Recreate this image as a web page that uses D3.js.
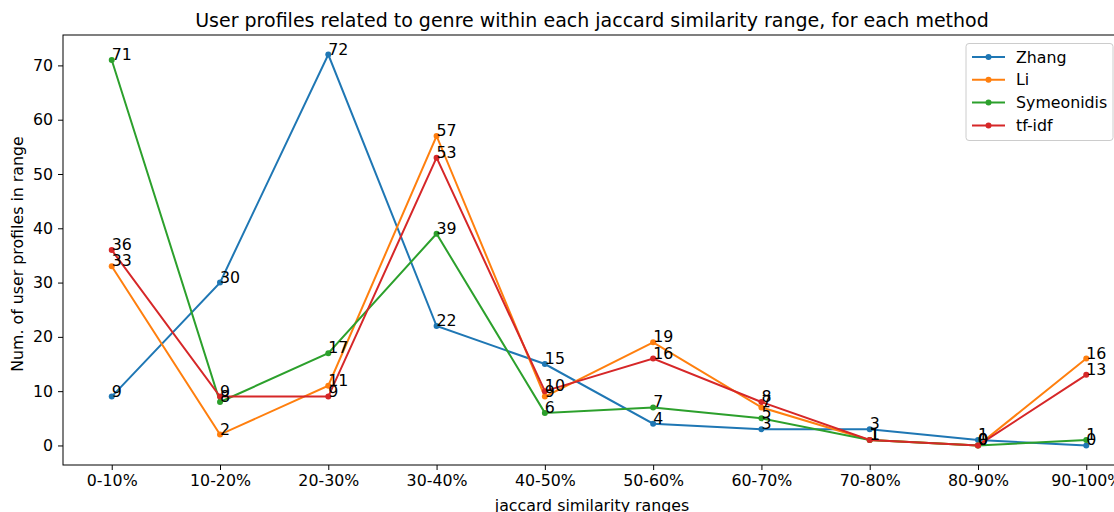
<!DOCTYPE html>
<html>
<head>
<meta charset="utf-8">
<script src="https://cdn.jsdelivr.net/npm/d3@7"></script>
<style>
  body { margin: 0; background: #fff; }
  svg text { font-family: "DejaVu Sans", sans-serif; fill: #000; }
</style>
</head>
<body>
<svg id="chart" width="1114" height="512"></svg>
<script>
// data
var categories = ['0-10%', '10-20%', '20-30%', '30-40%', '40-50%', '50-60%', '60-70%', '70-80%', '80-90%', '90-100%'];
var methods = ['Zhang', 'Li', 'Symeonidis', 'tf-idf'];
var zhang = [9, 30, 72, 22, 15, 4, 3, 3, 1, 0];
var li = [33, 2, 11, 57, 9, 19, 7, 1, 0, 16];
var symeonidis = [71, 8, 17, 39, 6, 7, 5, 1, 0, 1];
var tfidf = [36, 9, 9, 53, 10, 16, 8, 1, 0, 13];
var yTicks = [0, 10, 20, 30, 40, 50, 60, 70];
var colors = ['#1f77b4', '#ff7f0e', '#2ca02c', '#d62728'];

var series = [zhang, li, symeonidis, tfidf];
var fs = '15.8px';

var svg = d3.select('#chart');
// plot area (window.top is reserved, so use a margin object)
var m = { left: 63, right: 1135, top: 35, bottom: 465 };

var x = d3.scaleLinear().domain([-0.45, 9.45]).range([m.left, m.right]);
var y = d3.scaleLinear().domain([-3.6, 75.6]).range([m.bottom, m.top]);

// title
svg.append('text')
  .attr('x', 592).attr('y', 27)
  .attr('text-anchor', 'middle')
  .style('font-size', '19px')
  .text('User profiles related to genre within each jaccard similarity range, for each method');

// axes
var xAxis = d3.axisBottom(x).tickValues(d3.range(categories.length))
  .tickFormat(function (i) { return categories[i]; }).tickSizeOuter(0).tickSize(5).tickPadding(5);
var yAxis = d3.axisLeft(y).tickValues(yTicks).tickSizeOuter(0).tickSize(5).tickPadding(5);

var gx = svg.append('g').attr('transform', 'translate(0,' + m.bottom + ')').call(xAxis);
var gy = svg.append('g').attr('transform', 'translate(' + m.left + ',0)').call(yAxis);
[gx, gy].forEach(function (g) {
  g.select('.domain').remove();
  g.selectAll('text').style('font-size', fs).style('font-family', '"DejaVu Sans", sans-serif');
  g.selectAll('line').attr('stroke', '#000').attr('stroke-width', 1);
});

// frame
svg.append('rect')
  .attr('x', m.left).attr('y', m.top)
  .attr('width', m.right - m.left).attr('height', m.bottom - m.top)
  .attr('fill', 'none').attr('stroke', '#000').attr('stroke-width', 1);

svg.append('text')
  .attr('x', 592).attr('y', 511)
  .attr('text-anchor', 'middle')
  .style('font-size', fs)
  .text('jaccard similarity ranges');

svg.append('text')
  .attr('transform', 'translate(23,' + ((m.top + m.bottom) / 2 + 4) + ') rotate(-90)')
  .attr('text-anchor', 'middle')
  .style('font-size', fs)
  .text('Num. of user profiles in range');

var line = d3.line()
  .x(function (d, i) { return x(i); })
  .y(function (d) { return y(d); });

series.forEach(function (vals, k) {
  var g = svg.append('g');
  g.append('path').datum(vals)
    .attr('d', line)
    .attr('fill', 'none')
    .attr('stroke', colors[k])
    .attr('stroke-width', 2);
  g.selectAll('circle').data(vals).enter().append('circle')
    .attr('cx', function (d, i) { return x(i); })
    .attr('cy', function (d) { return y(d); })
    .attr('r', 3)
    .attr('fill', colors[k]);
});

// point labels (drawn after all lines, like annotate)
series.forEach(function (vals) {
  svg.append('g').selectAll('text').data(vals).enter().append('text')
    .attr('x', function (d, i) { return x(i); })
    .attr('y', function (d) { return y(d); })
    .style('font-size', fs)
    .text(function (d) { return d; });
});

// legend
var lg = svg.append('g');
lg.append('rect')
  .attr('x', 966).attr('y', 43.5)
  .attr('width', 147).attr('height', 97)
  .attr('rx', 3)
  .attr('fill', '#fff').attr('fill-opacity', 0.8)
  .attr('stroke', '#ccc');
methods.forEach(function (name, k) {
  var yy = 57 + k * 22.8;
  lg.append('line')
    .attr('x1', 972).attr('x2', 1005)
    .attr('y1', yy).attr('y2', yy)
    .attr('stroke', colors[k]).attr('stroke-width', 2);
  lg.append('circle').attr('cx', 988.5).attr('cy', yy).attr('r', 3).attr('fill', colors[k]);
  lg.append('text')
    .attr('x', 1016).attr('y', yy + 5.5)
    .style('font-size', fs)
    .text(name);
});
</script>
</body>
</html>
